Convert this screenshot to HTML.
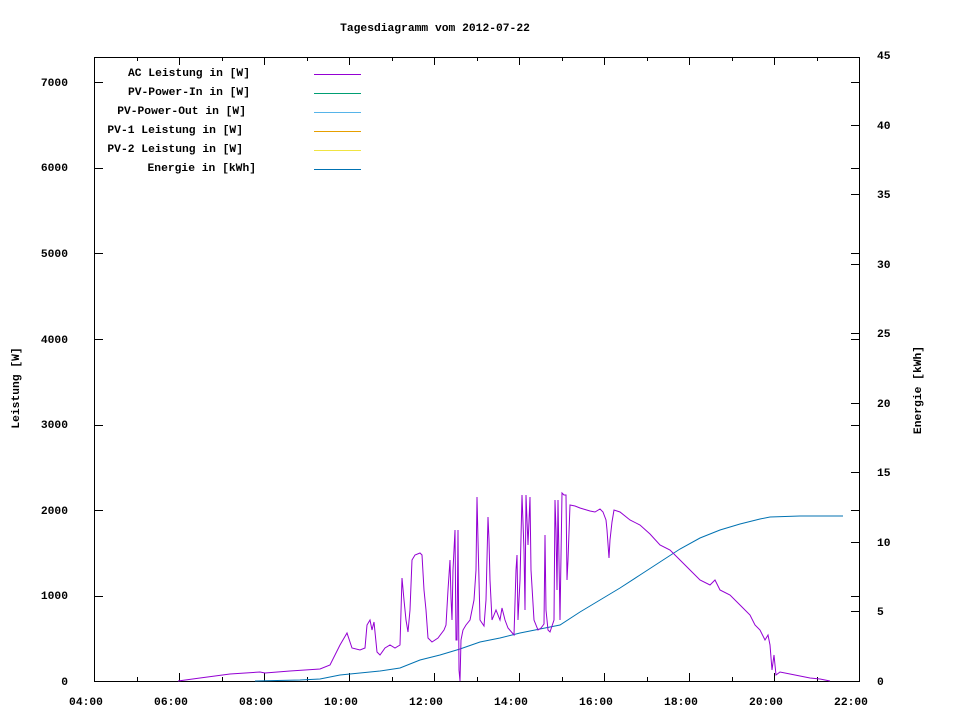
<!DOCTYPE html>
<html><head><meta charset="utf-8"><style>
html,body{margin:0;padding:0;background:#fff;}
svg{display:block;}
text{font-family:"Liberation Mono","DejaVu Sans Mono",monospace;font-size:11.3px;font-weight:bold;fill:#000;}
</style></head><body>
<svg width="960" height="720" viewBox="0 0 960 720" xmlns="http://www.w3.org/2000/svg">
<rect width="960" height="720" fill="#fff"/>
<text x="435" y="31" text-anchor="middle">Tagesdiagramm vom 2012-07-22</text>
<g stroke="#000" stroke-width="1" fill="none">
<rect x="94.5" y="57.5" width="765" height="624"/>
<path d="M95 596.5h8M95 510.5h8M95 425.5h8M95 339.5h8M95 253.5h8M95 168.5h8M95 82.5h8
M859 596.5h-8M859 510.5h-8M859 425.5h-8M859 339.5h-8M859 253.5h-8M859 168.5h-8M859 82.5h-8
M859 611.5h-8M859 542.5h-8M859 472.5h-8M859 403.5h-8M859 333.5h-8M859 264.5h-8M859 194.5h-8M859 125.5h-8
M179.5 681v-8M264.5 681v-8M349.5 681v-8M434.5 681v-8M519.5 681v-8M604.5 681v-8M689.5 681v-8M774.5 681v-8
M137.5 681v-4M222.5 681v-4M307.5 681v-4M392.5 681v-4M477.5 681v-4M562.5 681v-4M647.5 681v-4M732.5 681v-4M817.5 681v-4
M179.5 57v8M264.5 57v8M349.5 57v8M434.5 57v8M519.5 57v8M604.5 57v8M689.5 57v8M774.5 57v8
M137.5 57v4M222.5 57v4M307.5 57v4M392.5 57v4M477.5 57v4M562.5 57v4M647.5 57v4M732.5 57v4M817.5 57v4"/>
</g>
<g text-anchor="end">
<text x="68" y="685">0</text><text x="68" y="599">1000</text><text x="68" y="514">2000</text>
<text x="68" y="428">3000</text><text x="68" y="343">4000</text><text x="68" y="257">5000</text>
<text x="68" y="171">6000</text><text x="68" y="86">7000</text>
</g>
<g>
<text x="877" y="685">0</text><text x="877" y="615">5</text><text x="877" y="546">10</text>
<text x="877" y="476">15</text><text x="877" y="407">20</text><text x="877" y="337">25</text>
<text x="877" y="268">30</text><text x="877" y="198">35</text><text x="877" y="129">40</text><text x="877" y="59">45</text>
</g>
<g text-anchor="middle">
<text x="86" y="705">04:00</text><text x="171" y="705">06:00</text><text x="256" y="705">08:00</text>
<text x="341" y="705">10:00</text><text x="426" y="705">12:00</text><text x="511" y="705">14:00</text>
<text x="596" y="705">16:00</text><text x="681" y="705">18:00</text><text x="766" y="705">20:00</text><text x="851" y="705">22:00</text>
</g>
<text transform="translate(19,388) rotate(-90)" text-anchor="middle">Leistung [W]</text>
<text transform="translate(921,390) rotate(-90)" text-anchor="middle">Energie [kWh]</text>
<g text-anchor="end">
<text x="250" y="76">AC Leistung in [W]</text>
<text x="250" y="95">PV-Power-In in [W]</text>
<text x="246" y="114">PV-Power-Out in [W]</text>
<text x="243" y="133">PV-1 Leistung in [W]</text>
<text x="243" y="152">PV-2 Leistung in [W]</text>
<text x="256" y="171">Energie in [kWh]</text>
</g>
<g stroke-width="1">
<path d="M314 74.5h47" stroke="#9400d3"/>
<path d="M314 93.5h47" stroke="#009e73"/>
<path d="M314 112.5h47" stroke="#56b4e9"/>
<path d="M314 131.5h47" stroke="#e69f00"/>
<path d="M314 150.5h47" stroke="#f0e442"/>
<path d="M314 169.5h47" stroke="#0072b2"/>
</g>
<polyline fill="none" stroke="#0072b2" stroke-width="1" points="255,681 300,680 320,679 340,675 360,673 380,671 400,668 420,660 440,655 460,649 480,642 500,638 520,633 540,629 560,625 580,612 600,600 620,588 640,575 660,562 680,549 700,538 720,530 740,524 760,519 770,517 800,516 843,516"/>
<polyline fill="none" stroke="#9400d3" stroke-width="1" points="178,681 200,678 230,674 260,672 265,673 290,671 320,669 330,665 340,645 347,633 352,648 360,650 365,648 367,625 370,620 372,630 374,622 377,652 380,655 385,648 390,645 395,648 400,645 402,578 404,600 406,620 408,632 410,610 412,560 415,555 420,553 422,555 424,590 426,610 428,638 432,642 438,638 444,630 446,625 448,590 450,560 451,598 452,620 453,570 455,530 456,640 457,640 458,530 459,670 460,681 461,640 463,630 466,625 470,620 474,600 476,570 477,497 478,540 480,620 484,626 486,600 488,517 489,540 490,580 492,620 496,610 500,620 502,608 505,620 508,628 514,635 516,570 517,555 518,620 520,580 522,495 524,550 525,610 526,495 527,520 528,545 530,497 531,570 534,620 538,630 541,628 544,624 545,535 546,610 548,630 550,632 554,620 555,500 556,530 557,590 558,500 560,620 562,493 564,495 566,495 567,580 568,560 570,505 575,506 580,508 590,511 595,512 600,509 603,512 606,520 607,530 609,558 610,540 612,522 614,510 620,512 630,520 640,525 650,534 660,545 670,550 680,560 690,570 700,580 710,585 715,580 720,590 730,595 740,605 750,615 755,625 760,630 765,640 768,635 770,645 772,670 774,655 776,675 780,672 790,674 800,676 810,678 820,679 830,681"/>
</svg>
</body></html>
